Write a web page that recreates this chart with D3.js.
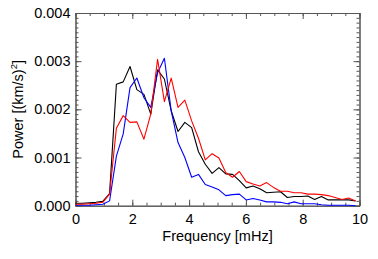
<!DOCTYPE html>
<html><head><meta charset="utf-8">
<script src="https://cdn.jsdelivr.net/npm/d3@7"></script>
<style>
html,body{margin:0;padding:0;background:#fff;}
text{font-family:"Liberation Sans",Arial,Helvetica,sans-serif;}
</style></head>
<body><svg id="c" width="378" height="259"></svg>
<script>
// Frequency [mHz]
const freq = [0.00,0.24,0.48,0.72,0.96,1.20,1.44,1.68,1.92,2.16,2.41,2.65,2.89,3.13,3.37,3.61,3.85,4.09,4.33,4.57,4.81,5.05,5.29,5.53,5.77,6.01,6.25,6.49,6.73,6.97,7.22,7.46,7.70,7.94,8.18,8.42,8.66,8.90,9.14,9.38,9.62,9.86];
// Power in units of 1e-3 (km/s)^2
const powerBlack = [0.05,0.05,0.06,0.07,0.09,0.25,2.52,2.57,2.89,2.41,2.31,1.90,2.82,2.63,1.97,1.54,1.73,1.62,1.12,0.86,0.67,0.79,0.66,0.65,0.52,0.37,0.41,0.35,0.27,0.28,0.29,0.17,0.19,0.19,0.20,0.13,0.19,0.12,0.12,0.12,0.12,0.10];
const powerRed   = [0.03,0.03,0.04,0.05,0.07,0.24,1.61,1.87,1.73,1.74,1.38,1.90,3.04,2.16,2.65,2.04,2.19,1.76,1.40,0.95,1.08,0.99,0.69,0.59,0.71,0.50,0.45,0.41,0.48,0.38,0.30,0.30,0.27,0.27,0.24,0.24,0.23,0.21,0.17,0.13,0.16,0.10];
const powerBlue  = [0.01,0.01,0.01,0.02,0.03,0.10,1.03,1.49,2.45,2.65,2.24,2.04,2.76,3.06,1.97,1.31,1.00,0.59,0.65,0.44,0.39,0.33,0.21,0.23,0.24,0.12,0.15,0.12,0.08,0.08,0.07,0.04,0.08,0.04,0.04,0.04,0.02,0.01,0.01,0.01,0.01,0.00];
const xTicks = [0,2,4,6,8,10];
const yTicks = [0,0.001,0.002,0.003,0.004];
const series = [
  {name:"black", values: powerBlack, color:"#000000"},
  {name:"blue",  values: powerBlue,  color:"#0000ff"},
  {name:"red",   values: powerRed,   color:"#ff0000"}
];

const L = 75.5, R = 359.5, T = 13, B = 205.7;
const svg = d3.select("#c");
const x = d3.scaleLinear().domain([0,10]).range([L,R]);
const y = d3.scaleLinear().domain([0,0.004]).range([B,T]);

const axColor = "#555";
const fontSize = 14.5;

function styleAxis(g){
  g.selectAll("path.domain").attr("stroke",axColor).attr("stroke-width",1);
  g.selectAll(".tick line").attr("stroke",axColor).attr("stroke-width",1);
  g.selectAll(".tick text").attr("fill","#000").attr("font-size",fontSize)
    .attr("font-family","Liberation Sans, Arial, Helvetica, sans-serif");
}

const xMinor = d3.range(0,10.001,0.5);
const yMinor = d3.range(0,0.0040001,0.0001);

// minor ticks
svg.append("g").attr("transform",`translate(0,${B})`)
  .call(d3.axisBottom(x).tickValues(xMinor).tickSize(-3).tickSizeOuter(0).tickFormat(""))
  .call(styleAxis);
svg.append("g").attr("transform",`translate(0,${T})`)
  .call(d3.axisTop(x).tickValues(xMinor).tickSize(-3).tickSizeOuter(0).tickFormat(""))
  .call(styleAxis);
svg.append("g").attr("transform",`translate(${L},0)`)
  .call(d3.axisLeft(y).tickValues(yMinor).tickSize(-3).tickSizeOuter(0).tickFormat(""))
  .call(styleAxis);
svg.append("g").attr("transform",`translate(${R},0)`)
  .call(d3.axisRight(y).tickValues(yMinor).tickSize(-3).tickSizeOuter(0).tickFormat(""))
  .call(styleAxis);

// major ticks
svg.append("g").attr("transform",`translate(0,${B})`)
  .call(d3.axisBottom(x).tickValues(xTicks).tickSize(-6).tickSizeOuter(0).tickPadding(8).tickFormat(d3.format("d")))
  .call(styleAxis);
svg.append("g").attr("transform",`translate(0,${T})`)
  .call(d3.axisTop(x).tickValues(xTicks).tickSize(-6).tickSizeOuter(0).tickFormat(""))
  .call(styleAxis);
svg.append("g").attr("transform",`translate(${L},0)`)
  .call(d3.axisLeft(y).tickValues(yTicks).tickSize(-6).tickSizeOuter(0).tickPadding(5).tickFormat(d3.format(".3f")))
  .call(styleAxis);
svg.append("g").attr("transform",`translate(${R},0)`)
  .call(d3.axisRight(y).tickValues(yTicks).tickSize(-6).tickSizeOuter(0).tickFormat(""))
  .call(styleAxis);

// lines
const line = d3.line().x((d,i)=>x(freq[i])).y(d=>y(d*1e-3));
series.forEach(s=>{
  svg.append("path").datum(s.values)
    .attr("fill","none").attr("stroke",s.color).attr("stroke-width",1.1)
    .attr("stroke-linejoin","round")
    .attr("d",line);
});

// axis titles
svg.append("text").attr("x",(L+R)/2).attr("y",241).attr("text-anchor","middle")
  .attr("font-size",fontSize).attr("fill","#000").text("Frequency [mHz]");
const yt = svg.append("text").attr("transform",`translate(23,${(T+B)/2}) rotate(-90)`)
  .attr("text-anchor","middle").attr("font-size",fontSize).attr("fill","#000");
yt.append("tspan").text("Power [(km/s)");
yt.append("tspan").attr("font-size",9.5).attr("dy",-6).text("2");
yt.append("tspan").attr("dy",6).text("]");
</script></body></html>
